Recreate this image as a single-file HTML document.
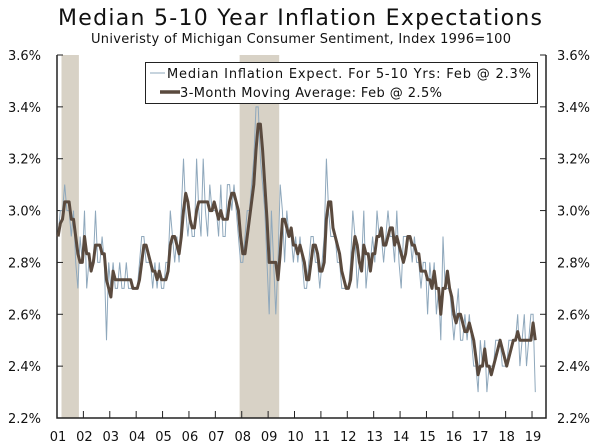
<!DOCTYPE html>
<html><head><meta charset="utf-8"><style>
body{margin:0;background:#fff;}
svg{display:block;font-family:"DejaVu Sans","Liberation Sans",sans-serif;}
</style></head><body>
<svg id="c" width="600" height="446">
<text x="300" y="25" text-anchor="middle" font-size="22" textLength="484" fill="#111">Median 5-10 Year Inflation Expectations</text>
<text x="301" y="43" text-anchor="middle" font-size="13" textLength="420" fill="#111">Univeristy of Michigan Consumer Sentiment, Index 1996=100</text>
<g id="rec"></g><g id="grid"></g><g id="series"></g>
<g>
<rect x="145.5" y="62.5" width="392" height="41" fill="#fff" stroke="#222"/>
<line x1="150" y1="73" x2="165" y2="73" stroke="#8fa8bc" stroke-width="1"/>
<text x="167" y="78" font-size="13" fill="#111" textLength="364">Median Inflation Expect. For 5-10 Yrs: Feb @ 2.3%</text>
<line x1="160" y1="92" x2="180" y2="92" stroke="#5a4a3e" stroke-width="3.5"/>
<text x="180" y="97" font-size="13" fill="#111" textLength="262">3-Month Moving Average: Feb @ 2.5%</text>
</g>
</svg>
<script>
const yTicks=[2.2,2.4,2.6,2.8,3.0,3.2,3.4,3.6];
const yTickLabels=["2.2%","2.4%","2.6%","2.8%","3.0%","3.2%","3.4%","3.6%"];
const xYears=[2001,2002,2003,2004,2005,2006,2007,2008,2009,2010,2011,2012,2013,2014,2015,2016,2017,2018,2019];
const xLabels=["01","02","03","04","05","06","07","08","09","10","11","12","13","14","15","16","17","18","19"];
const recessions=[[2001.17,2001.83],[2007.92,2009.42]];
const startYear=2001;
const raw=[
2.9,3.0,3.0,3.1,3.0,3.0,2.9,3.0,2.8,2.7,2.9,2.8,
3.0,2.7,2.8,2.8,2.8,3.0,2.8,2.8,2.9,2.8,2.5,2.8,
2.7,2.8,2.7,2.7,2.8,2.7,2.7,2.8,2.7,2.7,2.7,2.7,
2.7,2.8,2.9,2.9,2.8,2.8,2.8,2.7,2.8,2.7,2.8,2.7,
2.7,2.8,2.8,3.0,2.9,2.8,2.9,2.8,3.0,3.2,3.0,2.9,
3.0,2.9,2.9,3.2,3.0,2.9,3.2,3.0,2.9,3.1,3.0,3.0,
3.0,2.9,3.1,2.9,2.9,3.1,3.1,3.0,3.1,3.0,2.9,2.8,
2.8,2.9,3.0,3.0,3.1,3.2,3.4,3.4,3.2,3.1,3.0,2.8,
2.6,3.0,2.8,2.6,2.8,3.1,3.0,2.8,3.0,2.9,2.9,2.8,
2.9,2.8,2.9,2.8,2.7,2.7,2.8,2.9,2.9,2.8,2.8,2.7,
2.8,2.9,3.2,3.0,2.9,2.9,2.9,2.8,2.8,2.7,2.7,2.7,
2.7,2.8,3.0,2.9,2.7,2.8,2.8,3.0,2.7,2.8,2.8,2.9,
2.8,3.0,2.9,2.9,2.8,2.9,3.0,2.9,2.9,2.8,3.0,2.8,
2.7,2.9,2.9,2.9,2.9,2.8,2.9,2.8,2.8,2.7,2.8,2.8,
2.6,2.8,2.7,2.8,2.6,2.7,2.5,2.9,2.7,2.7,2.7,2.6,
2.5,2.6,2.7,2.5,2.5,2.6,2.5,2.6,2.5,2.4,2.4,2.3,
2.5,2.4,2.5,2.3,2.4,2.4,2.4,2.5,2.5,2.5,2.4,2.4,
2.4,2.5,2.5,2.5,2.5,2.6,2.4,2.5,2.6,2.4,2.5,2.6,
2.6,2.3];
const L=57,R=546,T=55,B=418;
const x=t=>L+(t-2001)*26.39;
const y=v=>B-(v-2.2)/1.4*(B-T);
const NS="http://www.w3.org/2000/svg";
function mk(tag,attrs,parent){const e=document.createElementNS(NS,tag);for(const k in attrs)e.setAttribute(k,attrs[k]);parent.appendChild(e);return e;}
const svg=document.getElementById('c');
const rec=document.getElementById('rec'),grid=document.getElementById('grid'),ser=document.getElementById('series');
recessions.forEach(r=>{const e=mk('rect',{x:x(r[0]),y:T,width:x(r[1])-x(r[0]),height:B-T,fill:'#d8d2c6'},rec);

});
let e=mk('path',{d:`M${L},${T}V${B}H${R}V${T}`,fill:'none',stroke:'#222','stroke-width':1.5},grid);


yTicks.forEach((v,i)=>{
 e=mk('line',{x1:L,x2:L+6,y1:y(v),y2:y(v),stroke:'#222'},grid);
 
 
 e=mk('line',{x1:R-6,x2:R,y1:y(v),y2:y(v),stroke:'#222'},grid);
 
 
 e=mk('text',{x:41,y:y(v)+5,'text-anchor':'end','font-size':13,fill:'#111'},grid);e.textContent=yTickLabels[i];
 
 
 e=mk('text',{x:557,y:y(v)+5,'font-size':13,fill:'#111'},grid);e.textContent=yTickLabels[i];
 
 
});
xYears.forEach((yr,i)=>{
 e=mk('line',{x1:x(yr),x2:x(yr),y1:B,y2:B-7,stroke:'#222'},grid);
 
 
 e=mk('text',{x:x(yr)+1,y:441,'text-anchor':'middle','font-size':13,fill:'#111'},grid);e.textContent=xLabels[i];
 
 
});
const tt=i=>startYear+(i+0.5)/12;
let d=raw.map((v,i)=>(i?'L':'M')+x(tt(i)).toFixed(1)+','+y(v).toFixed(1)).join('');
e=mk('path',{d,fill:'none',stroke:'#8fa8bc','stroke-width':1},ser);


const ma=raw.map((v,i)=>{const s=raw.slice(Math.max(0,i-2),i+1);return s.reduce((a,b)=>a+b,0)/s.length;});
d=ma.map((v,i)=>(i?'L':'M')+x(tt(i)).toFixed(1)+','+y(v).toFixed(1)).join('');
e=mk('path',{d,fill:'none',stroke:'#5a4a3e','stroke-width':3,'stroke-linejoin':'round'},ser);


</script>
</body></html>
